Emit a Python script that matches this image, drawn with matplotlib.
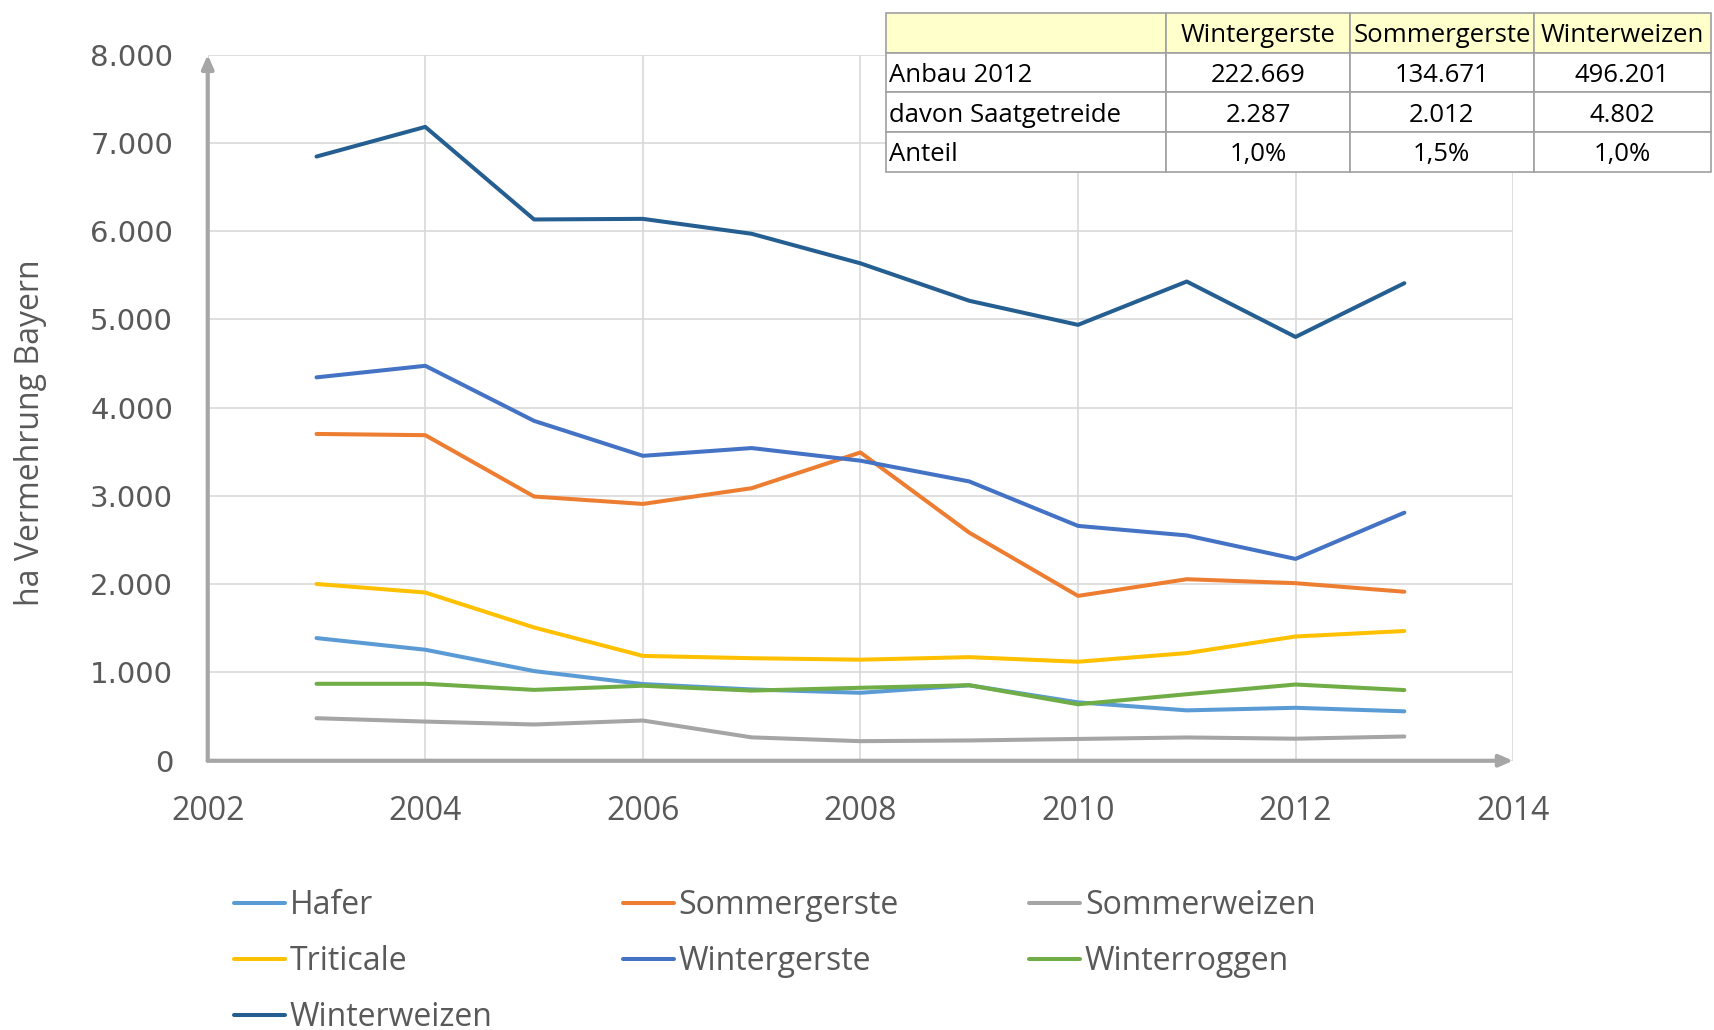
import matplotlib.pyplot as plt
from matplotlib.ticker import FuncFormatter

years = [2003, 2004, 2005, 2006, 2007, 2008, 2009, 2010, 2011, 2012, 2013]

hafer = [1390, 1258, 1016, 869, 808, 770, 855, 662, 571, 600, 560]
sommergerste = [3703, 3689, 2994, 2910, 3088, 3493, 2585, 1868, 2057, 2012, 1915]
sommerweizen = [482, 444, 411, 456, 265, 222, 230, 247, 264, 250, 275]
triticale = [2003, 1906, 1510, 1188, 1162, 1145, 1174, 1122, 1220, 1408, 1470]
wintergerste = [4344, 4475, 3851, 3455, 3543, 3400, 3165, 2661, 2553, 2287, 2811]
winterroggen = [872, 872, 803, 850, 795, 827, 856, 640, 754, 864, 801]
winterweizen = [6846, 7182, 6133, 6140, 5971, 5636, 5212, 4939, 5430, 4802, 5411]

series = [
    ("Hafer", hafer, "#5B9BD5"),
    ("Sommergerste", sommergerste, "#ED7D31"),
    ("Sommerweizen", sommerweizen, "#A5A5A5"),
    ("Triticale", triticale, "#FFC000"),
    ("Wintergerste", wintergerste, "#4472C4"),
    ("Winterroggen", winterroggen, "#70AD47"),
    ("Winterweizen", winterweizen, "#255E91"),
]

# Tabelle oben rechts
table_cols = ["", "Wintergerste", "Sommergerste", "Winterweizen"]
table_rows = [
    ["Anbau 2012", "222.669", "134.671", "496.201"],
    ["davon Saatgetreide", "2.287", "2.012", "4.802"],
    ["Anteil", "1,0%", "1,5%", "1,0%"],
]

txt = "#595959"
font = ["Open Sans", "DejaVu Sans"]

fig = plt.figure(figsize=(17.14, 10.30), dpi=100)
ax = fig.add_axes([0.1212, 0.2614, 0.7616, 0.6855])

lines = {}
for name, vals, col in series:
    lines[name], = ax.plot(years, vals, color=col, lw=2.9, label=name,
                           solid_capstyle="round", solid_joinstyle="round")

ax.set_xlim(2002, 2014)
ax.set_ylim(0, 8000)
ax.set_xticks(range(2002, 2015, 2))
ax.set_yticks(range(0, 8001, 1000))
ax.yaxis.set_major_formatter(FuncFormatter(lambda v, p: f"{v:,.0f}".replace(",", ".")))
ax.grid(True, color="#D9D9D9", lw=1.2)
ax.set_axisbelow(True)
for s in ax.spines.values():
    s.set_visible(False)
ax.tick_params(length=0, pad=25, colors=txt)
for lab in ax.get_xticklabels():
    lab.set_fontsize(23)
    lab.set_family(font)
for lab in ax.get_yticklabels():
    lab.set_fontsize(21)
    lab.set_family("DejaVu Sans")

# Achsen mit Pfeilspitzen
arrow = dict(arrowstyle="-|>,head_length=0.8,head_width=0.35", color="#A6A6A6",
             lw=3, shrinkA=0, shrinkB=0)
ax.annotate("", xy=(2014, 0), xytext=(2002, 0), arrowprops=arrow,
            annotation_clip=False)
ax.annotate("", xy=(2002, 8000), xytext=(2002, 0), arrowprops=arrow,
            annotation_clip=False)

ax.set_ylabel("ha Vermehrung Bayern", fontsize=23, color=txt, family=font)
ax.yaxis.set_label_coords(-0.123, 0.464)

order = ["Hafer", "Triticale", "Winterweizen", "Sommergerste", "Wintergerste",
         "Sommerweizen", "Winterroggen"]
leg = fig.legend([lines[n] for n in order], order, loc="upper left",
                 bbox_to_anchor=(234 / 1714, 1 - 889 / 1030), ncol=3,
                 frameon=False, borderpad=0, borderaxespad=0,
                 handlelength=1.6, handletextpad=0.15, columnspacing=4.07,
                 labelspacing=0.72, prop={"family": font, "size": 23})
for t in leg.get_texts():
    t.set_color(txt)

# Tabelle
tax = fig.add_axes([886.5 / 1714, 1 - 171.6 / 1030, 1 - 886.5 / 1714 - 0.002, 158.5 / 1030])
tax.axis("off")
tbl = tax.table(cellText=table_rows, colLabels=table_cols, bbox=[0, 0, 1, 1],
                colWidths=[280, 183.6, 183.6, 177], cellLoc="center")
tbl.auto_set_font_size(False)
for (r, c), cell in tbl.get_celld().items():
    cell.set_edgecolor("#A0A0A0")
    cell.set_linewidth(1.2)
    cell.get_text().set_fontsize(18.5)
    cell.get_text().set_family(font)
    cell.get_text().set_verticalalignment("center_baseline")
    if r == 0:
        cell.set_facecolor("#FFFFCC")
    if c == 0:
        cell.PAD = 0.01
        cell.get_text().set_horizontalalignment("left")

fig.savefig("out.png", dpi=100)
